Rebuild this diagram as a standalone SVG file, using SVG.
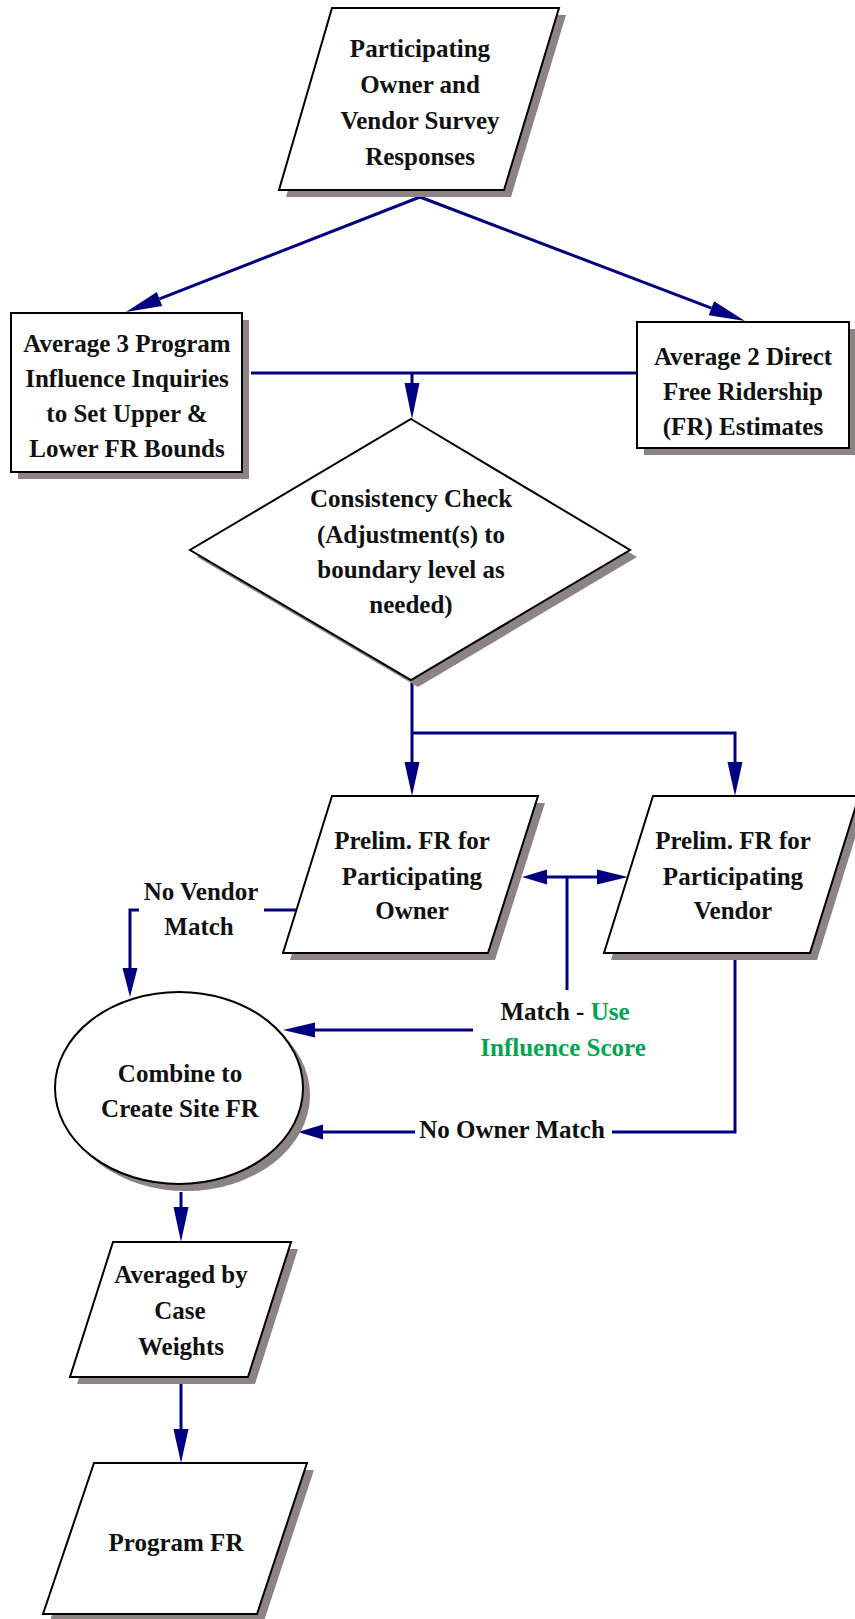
<svg xmlns="http://www.w3.org/2000/svg" width="855" height="1619" viewBox="0 0 855 1619">
<style>
.sh{fill:#8c8484;stroke:none}
.nd{fill:#ffffff;stroke:#000000;stroke-width:2}
.t{font-family:"Liberation Serif","Times New Roman",serif;font-weight:bold;font-size:25px;fill:#111111;text-anchor:middle}
.g{fill:#00a550}
.ln{fill:none;stroke:#000080;stroke-width:3}
.ah{fill:#000080;stroke:none}
</style>
<rect width="855" height="1619" fill="#ffffff"/>
<g id="connectors">
<path class="ln" d="M420,197 L159.5,298.9"/>
<polygon class="ah" points="126,312 162.2,305.9 156.8,291.9"/>
<path class="ln" d="M420,197 L711.4,308.2"/>
<polygon class="ah" points="745,321 708.7,315.2 714.1,301.2"/>
<path class="ln" d="M251,373 H412 M637,373 H412 V384"/>
<polygon class="ah" points="404.5,383 419.5,383 412,419"/>
<path class="ln" d="M412,681 V763 M412,733 H735 V763"/>
<polygon class="ah" points="404.5,762 419.5,762 412,796"/>
<polygon class="ah" points="727.5,762 742.5,762 735,796"/>
<path class="ln" d="M545,877 H598 M567,877 V990"/>
<polygon class="ah" points="522,877 547,869.5 547,884.5"/>
<polygon class="ah" points="628,877 597,869.5 597,884.5"/>
<path class="ln" d="M473,1030 H314"/>
<polygon class="ah" points="283,1030 315,1022.5 315,1037.5"/>
<path class="ln" d="M735,960 V1132 H612 M415,1132 H322"/>
<polygon class="ah" points="298,1132 323,1124.5 323,1139.5"/>
<path class="ln" d="M296,910 H264 M139,910 H130 V969"/>
<polygon class="ah" points="122.5,968 137.5,968 130,997"/>
<path class="ln" d="M181,1192 V1208"/>
<polygon class="ah" points="173.5,1207 188.5,1207 181,1242"/>
<path class="ln" d="M181,1384 V1430"/>
<polygon class="ah" points="173.5,1429 188.5,1429 181,1463"/>
<text class="t" x="201" y="900">No Vendor</text>
<text class="t" x="199" y="935">Match</text>
<text class="t" x="565" y="1020">Match - <tspan class="g">Use</tspan></text>
<text class="t g" x="563" y="1056">Influence Score</text>
<text class="t" x="512" y="1138">No Owner Match</text>
</g>
<g id="n1">
<polygon class="sh" points="339,15 566,15 511,197 286,197"/>
<polygon class="nd" points="332,8 559,8 504,190 279,190"/>
<text class="t" x="420" y="57">Participating</text>
<text class="t" x="420" y="93">Owner and</text>
<text class="t" x="420" y="129">Vendor Survey</text>
<text class="t" x="420" y="165">Responses</text>
</g>
<g id="n2">
<rect class="sh" x="18" y="320" width="231" height="159"/>
<rect class="nd" x="11" y="313" width="231" height="159"/>
<text class="t" x="127" y="352">Average 3 Program</text>
<text class="t" x="127" y="387">Influence Inquiries</text>
<text class="t" x="127" y="422">to Set Upper &amp;</text>
<text class="t" x="127" y="457">Lower FR Bounds</text>
</g>
<g id="n3">
<rect class="sh" x="644" y="329" width="212" height="126"/>
<rect class="nd" x="637" y="322" width="212" height="126"/>
<text class="t" x="743" y="365">Average 2 Direct</text>
<text class="t" x="743" y="400">Free Ridership</text>
<text class="t" x="743" y="435">(FR) Estimates</text>
</g>
<g id="n4">
<polygon class="sh" points="418,426 637,557 418,687 197,557"/>
<polygon class="nd" points="411,419 630,550 411,680 190,550"/>
<text class="t" x="411" y="507">Consistency Check</text>
<text class="t" x="411" y="543">(Adjustment(s) to</text>
<text class="t" x="411" y="578">boundary level as</text>
<text class="t" x="411" y="613">needed)</text>
</g>
<g id="n5">
<polygon class="sh" points="339,803 545,803 495,960 290,960"/>
<polygon class="nd" points="332,796 538,796 488,953 283,953"/>
<text class="t" x="412" y="849">Prelim. FR for</text>
<text class="t" x="412" y="885">Participating</text>
<text class="t" x="412" y="919">Owner</text>
</g>
<g id="n6">
<polygon class="sh" points="660,803 866,803 817,960 611,960"/>
<polygon class="nd" points="653,796 859,796 810,953 604,953"/>
<text class="t" x="733" y="849">Prelim. FR for</text>
<text class="t" x="733" y="885">Participating</text>
<text class="t" x="733" y="919">Vendor</text>
</g>
<g id="n7">
<ellipse class="sh" cx="186" cy="1095" rx="124" ry="96"/>
<ellipse class="nd" cx="179" cy="1088" rx="124" ry="96"/>
<text class="t" x="180" y="1082">Combine to</text>
<text class="t" x="180" y="1117">Create Site FR</text>
</g>
<g id="n8">
<polygon class="sh" points="120,1249 298,1249 255,1384 77,1384"/>
<polygon class="nd" points="113,1242 291,1242 248,1377 70,1377"/>
<text class="t" x="181" y="1283">Averaged by</text>
<text class="t" x="180" y="1319">Case</text>
<text class="t" x="181" y="1355">Weights</text>
</g>
<g id="n9">
<polygon class="sh" points="101,1470 314,1470 264,1621 50,1621"/>
<polygon class="nd" points="94,1463 307,1463 257,1614 43,1614"/>
<text class="t" x="176" y="1551">Program FR</text>
</g>
</svg>
